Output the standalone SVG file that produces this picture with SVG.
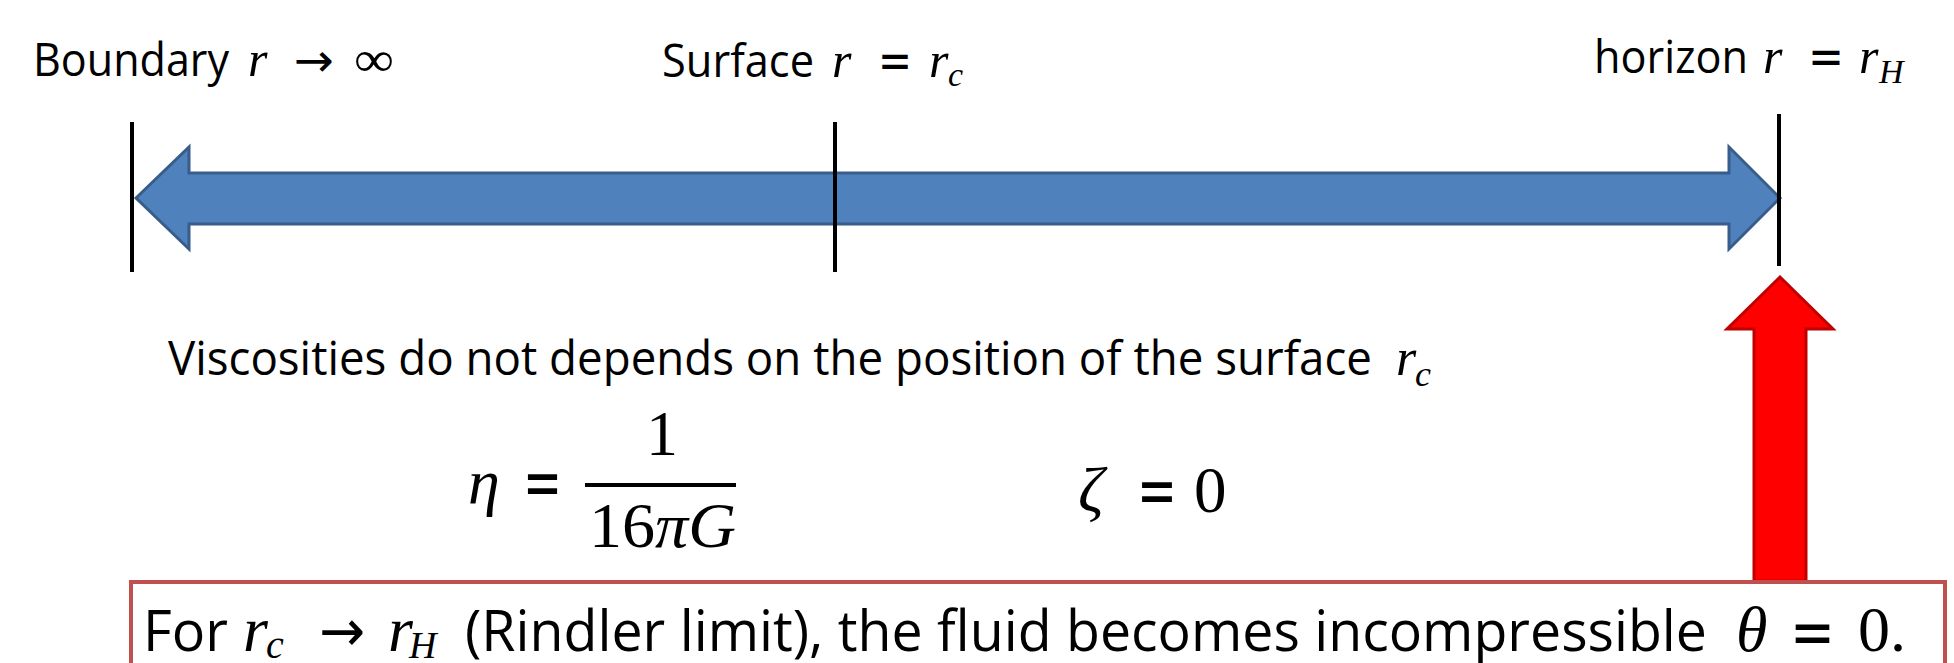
<svg xmlns="http://www.w3.org/2000/svg" width="1954" height="663" viewBox="0 0 1954 663">
  <style>
    .txt { font-family: "Open Sans", "Liberation Sans", sans-serif; fill: #000; }
    .mi { font-family: "Liberation Serif", "DejaVu Serif", serif; font-style: italic; fill: #000; }
    .mr { font-family: "Liberation Serif", "DejaVu Serif", serif; fill: #000; }
    .sym { font-family: "DejaVu Sans", sans-serif; fill: #000; }
    .tick { stroke: #000; stroke-width: 4; }
    .blue { fill: #4F81BD; stroke: #385D8A; stroke-width: 3; }
    .red { fill: #FF0000; stroke: #C00000; stroke-width: 3; }
  </style>
  <rect width="1954" height="663" fill="#FFFFFF"/>

  <g id="connectors">
    <polygon id="axis-arrow" class="blue" points="136,198 189,147 189,173 1729,173 1729,147 1780,198 1729,249 1729,224 189,224 189,249"/>
    <polygon id="limit-arrow" class="red" points="1780,277 1833,329 1806,329 1806,581 1754,581 1754,329 1727,329"/>
  </g>

  <g id="tick-boundary"><line class="tick" x1="132" y1="122" x2="132" y2="272"/></g>
  <g id="tick-surface"><line class="tick" x1="835" y1="122" x2="835" y2="272"/></g>
  <g id="tick-horizon"><line class="tick" x1="1779" y1="114" x2="1779" y2="266"/></g>

  <g id="boundary-label">
    <text class="txt" x="33" y="76" font-size="45" textLength="196" lengthAdjust="spacingAndGlyphs">Boundary</text>
    <text class="mi" x="248" y="76" font-size="50">r</text>
    <text class="sym" x="294" y="76" font-size="46" textLength="40" lengthAdjust="spacingAndGlyphs">→</text>
    <text class="mr" x="354" y="76" font-size="50" textLength="40" lengthAdjust="spacingAndGlyphs">∞</text>
  </g>

  <g id="surface-label">
    <text class="txt" x="662" y="77" font-size="45" textLength="152" lengthAdjust="spacingAndGlyphs">Surface</text>
    <text class="mi" x="832" y="77" font-size="50">r</text>
    <text class="sym" x="878" y="78" font-size="52" textLength="34" lengthAdjust="spacingAndGlyphs">=</text>
    <text class="mi" x="929" y="77" font-size="50">r</text>
    <text class="mi" x="948" y="86" font-size="34">c</text>
  </g>

  <g id="horizon-label">
    <text class="txt" x="1594" y="73" font-size="45" textLength="154" lengthAdjust="spacingAndGlyphs">horizon</text>
    <text class="mi" x="1763" y="73" font-size="50">r</text>
    <text class="sym" x="1808" y="74" font-size="52" textLength="36" lengthAdjust="spacingAndGlyphs">=</text>
    <text class="mi" x="1859" y="73" font-size="50">r</text>
    <text class="mi" x="1879" y="83" font-size="34">H</text>
  </g>

  <g id="viscosity-text">
    <text class="txt" x="168" y="375" font-size="47" textLength="1204" lengthAdjust="spacingAndGlyphs">Viscosities do not depends on the position of the surface</text>
    <text class="mi" x="1396" y="375" font-size="52">r</text>
    <text class="mi" x="1415" y="386" font-size="36">c</text>
  </g>

  <g id="eta-equation">
    <text class="mi" x="468" y="503" font-size="64">η</text>
    <text class="sym" x="523" y="506" font-size="70" textLength="39" lengthAdjust="spacingAndGlyphs">=</text>
    <rect x="585" y="483" width="151" height="4" fill="#000"/>
    <text class="mr" x="662" y="455" font-size="64" text-anchor="middle">1</text>
    <text x="589" y="547" font-size="64" textLength="147" lengthAdjust="spacingAndGlyphs"><tspan class="mr">16</tspan><tspan class="mi">πG</tspan></text>
  </g>

  <g id="zeta-equation">
    <text class="mi" x="1078" y="511" font-size="64">ζ</text>
    <text class="sym" x="1137" y="514" font-size="70" textLength="40" lengthAdjust="spacingAndGlyphs">=</text>
    <text class="mr" x="1194" y="512" font-size="65">0</text>
  </g>

  <g id="rindler-box">
    <rect x="131" y="582" width="1814" height="120" fill="#FFFFFF" stroke="#C0504D" stroke-width="4"/>
    <text class="txt" x="143" y="651" font-size="57" textLength="85" lengthAdjust="spacingAndGlyphs">For</text>
    <text class="mi" x="243" y="651" font-size="64">r</text>
    <text class="mi" x="266" y="658" font-size="40">c</text>
    <text class="sym" x="319" y="651" font-size="58" textLength="46" lengthAdjust="spacingAndGlyphs">→</text>
    <text class="mi" x="388" y="651" font-size="64">r</text>
    <text class="mi" x="409" y="658" font-size="38">H</text>
    <text class="txt" x="465" y="651" font-size="57" textLength="1242" lengthAdjust="spacingAndGlyphs">(Rindler limit), the fluid becomes incompressible</text>
    <text class="mi" x="1736" y="651" font-size="64">θ</text>
    <text class="sym" x="1790" y="654" font-size="66" textLength="45" lengthAdjust="spacingAndGlyphs">=</text>
    <text class="mr" x="1858" y="651" font-size="64">0.</text>
  </g>
</svg>
